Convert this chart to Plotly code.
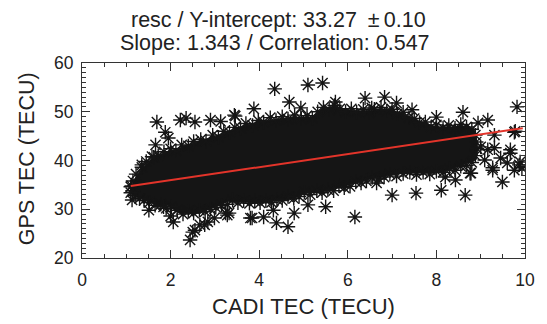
import plotly.graph_objects as go

# ---------------- data ----------------
intercept = 33.27
intercept_err = 0.10
slope = 1.343
correlation = 0.547

x_ticks = [0, 2, 4, 6, 8, 10]
y_ticks = [20, 30, 40, 50, 60]

# envelope of the saturated (solid black) part of the point cloud
core_upper_x = [1.15, 1.3, 1.6, 2.0, 2.3, 2.66, 3.02, 3.39, 3.66, 4.02, 4.39, 4.77, 5.2,
                5.43, 5.72, 6.1, 6.6, 6.87, 7.23, 7.6, 7.98, 8.34, 8.71, 8.88, 8.92, 8.9]
core_upper_y = [35.5, 37.8, 40.6, 42.0, 43.0, 44.0, 45.0, 46.2, 47.2, 48.0, 48.5, 48.9, 48.9,
                50.6, 51.1, 50.2, 50.2, 50.6, 49.6, 48.1, 46.9, 46.9, 47.1, 46.0, 42.0, 40.2]
core_lower_x = [1.15, 1.25, 1.55, 2.0, 2.2, 2.66, 3.0, 3.3, 3.66, 4.02, 4.39, 4.77, 5.0,
                5.5, 6.16, 6.5, 6.87, 7.23, 7.98, 8.34, 8.71, 8.9]
core_lower_y = [33.0, 32.6, 31.3, 30.6, 29.2, 29.2, 30.6, 31.6, 31.5, 31.3, 31.8, 32.1, 33.2,
                33.7, 35.4, 36.2, 36.8, 37.4, 37.4, 38.2, 39.5, 40.2]

# individual points along the edge of the cloud
edge_x = [1.15, 1.22, 1.35, 1.45, 1.58, 1.72, 1.85, 2.0, 2.12, 2.25, 2.4, 2.52, 2.68, 2.8,
          2.95, 3.08, 3.2, 3.33, 3.45, 3.58, 3.7, 3.85, 3.98, 4.1, 4.25, 4.38, 4.52, 4.65,
          4.8, 4.95, 5.08, 5.2, 5.32, 5.45, 5.58, 5.7, 5.82, 5.95, 6.08, 6.2, 6.35, 6.48,
          6.6, 6.75, 6.88, 7.0, 7.12, 7.25, 7.38, 7.5, 7.62, 7.75, 7.88, 8.0, 8.15, 8.28,
          8.42, 8.55, 8.68, 8.8, 8.88, 8.9, 8.92, 8.88,
          8.8, 8.68, 8.55, 8.42, 8.3, 8.15, 8.0, 7.85, 7.7, 7.55, 7.4, 7.25, 7.1, 6.95,
          6.82, 6.7, 6.55, 6.42, 6.3, 6.18, 6.05, 5.92, 5.8, 5.68, 5.55, 5.42, 5.3, 5.15,
          5.02, 4.9, 4.78, 4.65, 4.52, 4.4, 4.28, 4.15, 4.02, 3.9, 3.78, 3.65, 3.52, 3.4,
          3.28, 3.15, 3.02, 2.9, 2.78, 2.65, 2.52, 2.4, 2.28, 2.15, 2.02, 1.9, 1.78, 1.65,
          1.52, 1.4, 1.3, 1.2, 1.14, 1.12]
edge_y = [35.8, 37.2, 38.6, 39.8, 40.8, 41.0, 41.8, 42.4, 42.0, 43.2, 43.0, 43.9, 44.3, 44.0,
          45.2, 44.8, 46.0, 45.8, 46.8, 46.6, 47.6, 47.2, 48.2, 47.9, 48.8, 48.2, 49.0, 48.5,
          49.3, 48.6, 49.2, 48.7, 50.0, 50.9, 50.4, 51.3, 50.6, 50.0, 50.6, 49.9, 50.5, 49.8,
          50.5, 50.9, 50.2, 50.5, 49.6, 49.9, 48.8, 48.6, 47.8, 47.9, 46.9, 47.3, 46.7, 47.2,
          46.6, 47.4, 46.9, 46.4, 45.2, 43.8, 42.4, 41.0,
          39.6, 39.0, 38.8, 38.0, 38.3, 37.6, 37.8, 37.2, 37.6, 37.1, 37.6, 37.3, 36.8, 37.2,
          36.6, 36.2, 36.5, 35.8, 35.4, 35.6, 34.7, 34.4, 34.8, 33.8, 34.0, 33.4, 33.8, 33.0,
          33.5, 32.6, 32.2, 32.6, 31.8, 32.0, 31.4, 31.8, 31.3, 31.7, 31.2, 31.8, 31.3, 31.9,
          31.0, 30.8, 30.4, 30.0, 29.5, 29.8, 29.2, 29.6, 29.0, 29.8, 30.5, 30.2, 31.0, 30.8,
          31.4, 31.8, 32.2, 32.8, 33.8, 34.8]

# isolated points outside the cloud
outlier_x = [1.69, 2.22, 2.35, 2.55, 2.9, 3.13, 1.88, 1.95, 1.66, 1.62, 1.35, 3.46, 3.88, 3.44,
             4.35, 5.1, 5.43, 4.68, 4.94, 5.72, 6.39, 6.54, 6.83, 7.1, 7.45, 8.0, 8.6, 9.16,
             9.82, 9.76, 8.94,
             1.1, 1.1, 1.13, 1.51, 1.84, 2.06, 2.44, 2.55, 2.66, 2.84, 2.99, 3.24, 2.0, 2.5,
             2.77, 3.28, 3.8,
             3.32, 3.84, 4.1, 4.39, 4.65, 4.79, 5.1, 5.5, 6.16, 4.32,
             9.31, 9.31, 9.67, 9.45, 9.27, 9.49, 9.87, 9.93, 9.6, 9.76, 9.09, 9.0, 9.16, 8.78,
             8.65, 8.11, 7.54, 7.0, 6.65, 8.2, 8.43, 9.78, 9.89, 9.27, 9.67, 8.76]
outlier_y = [47.9, 48.3, 48.7, 47.9, 48.3, 48.0, 45.8, 44.6, 43.2, 40.7, 39.1, 49.1, 50.6, 49.3,
             54.7, 55.5, 55.9, 52.0, 50.8, 52.0, 52.8, 50.8, 53.0, 51.8, 50.4, 48.9, 49.9, 48.3,
             51.0, 45.8, 47.7,
             34.6, 33.4, 31.9, 29.8, 30.5, 27.4, 23.7, 25.7, 26.8, 27.4, 28.2, 29.2, 28.6, 25.3,
             26.8, 28.8, 28.2,
             29.2, 28.2, 28.4, 27.2, 26.4, 29.2, 30.9, 30.5, 28.4, 29.8,
             45.2, 42.6, 42.2, 40.5, 38.5, 35.6, 39.1, 38.5, 39.5, 38.0, 40.1, 42.8, 42.2, 37.4,
             32.9, 33.9, 33.3, 32.9, 35.4, 36.6, 36.0, 46.0, 39.7, 38.0, 41.5, 37.4]

# fitted line drawn over the x extent of the data
fit_x = [1.1, 9.95]
fit_y = [intercept + slope * v for v in fit_x]

# ---------------- figure ----------------
FONT = "Liberation Sans, Arial, Helvetica, sans-serif"
INK = "#151515"
AX = "#333333"

fig = go.Figure()

fig.add_trace(go.Scatter(
    x=core_upper_x + core_lower_x[::-1],
    y=core_upper_y + core_lower_y[::-1],
    mode="lines", fill="toself", fillcolor=INK,
    line=dict(color=INK, width=1), hoverinfo="skip", showlegend=False))

marker_style = dict(symbol="asterisk-open", size=12, color=INK,
                    line=dict(color=INK, width=1.4))
fig.add_trace(go.Scatter(x=edge_x, y=edge_y, mode="markers",
                         marker=marker_style, showlegend=False))
fig.add_trace(go.Scatter(x=outlier_x, y=outlier_y, mode="markers",
                         marker=marker_style, showlegend=False))

fig.add_trace(go.Scatter(x=fit_x, y=fit_y, mode="lines",
                         line=dict(color="#e3342a", width=2), showlegend=False))

axis_common = dict(
    showgrid=False, zeroline=False, showline=True, linecolor=AX, linewidth=1,
    mirror="ticks", ticks="inside", ticklen=8, tickwidth=1, tickcolor=AX,
    tickfont=dict(family=FONT, size=17.5, color="#222"),
)
fig.update_xaxes(range=[0, 10], tickvals=x_ticks, ticklabelstandoff=6,
                 minor=dict(dtick=0.5, tick0=0, ticks="inside", ticklen=4,
                            tickwidth=1, tickcolor=AX),
                 **axis_common)
fig.update_yaxes(range=[20, 60], tickvals=y_ticks, ticklabelstandoff=4,
                 minor=dict(dtick=1, tick0=0, ticks="inside", ticklen=4,
                            tickwidth=1, tickcolor=AX),
                 **axis_common)

title_font = dict(family=FONT, size=21.5, color="#222")
fig.add_annotation(text=f"resc / Y-intercept: {intercept:.2f}\u2002\u00b1\u2009{intercept_err:.2f}",
                   xref="paper", yref="paper", x=0.443, y=1.218,
                   xanchor="center", yanchor="middle", showarrow=False, font=title_font)
fig.add_annotation(text=f"Slope: {slope:.3f} / Correlation: {correlation:.3f}",
                   xref="paper", yref="paper", x=0.436, y=1.103,
                   xanchor="center", yanchor="middle", showarrow=False, font=title_font)
fig.add_annotation(text="CADI TEC (TECU)", xref="paper", yref="paper", x=0.5, y=-0.25,
                   xanchor="center", yanchor="middle", showarrow=False,
                   font=dict(family=FONT, size=22, color="#222"))
fig.add_annotation(text="GPS TEC (TECU)", xref="paper", yref="paper", x=-0.125, y=0.51,
                   xanchor="center", yanchor="middle", textangle=-90, showarrow=False,
                   font=dict(family=FONT, size=21.5, color="#222"))

fig.update_layout(
    width=547, height=324,
    margin=dict(l=82, r=14, t=63, b=66, pad=0),
    paper_bgcolor="white", plot_bgcolor="white",
    showlegend=False,
)

fig.write_html("out.html")
